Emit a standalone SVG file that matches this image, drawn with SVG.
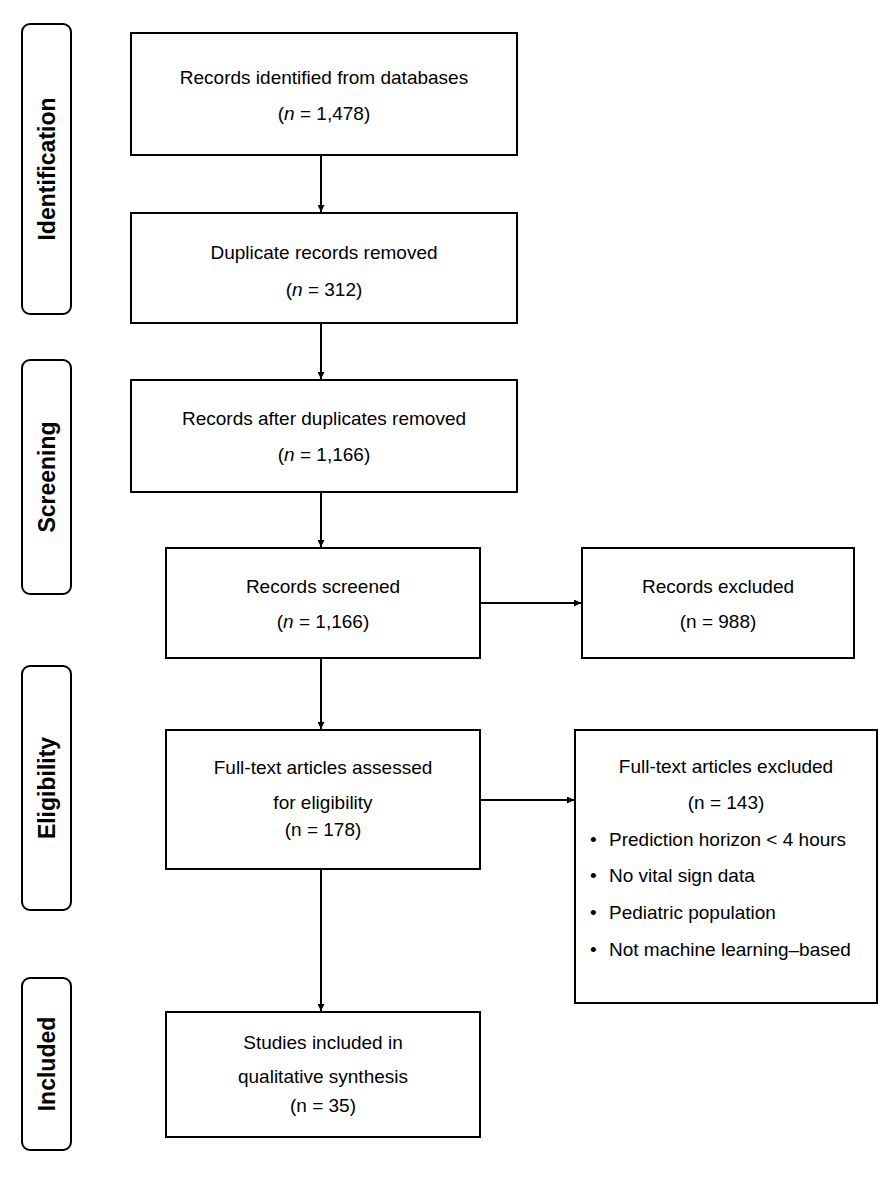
<svg xmlns="http://www.w3.org/2000/svg" width="892" height="1198" viewBox="0 0 892 1198">
<style>
.b{fill:#fff;stroke:#000;stroke-width:2}
.s{fill:#fff;stroke:#000;stroke-width:2}
text{font-family:"Liberation Sans",Arial,sans-serif;font-size:19px;fill:#000}
.c{text-anchor:middle}
.lab{font-size:23px;font-weight:bold;text-anchor:middle}
.e{stroke:#000;stroke-width:2;fill:none;marker-end:url(#a)}
</style>
<defs><marker id="a" viewBox="0 0 10 10" refX="10" refY="5" markerWidth="7" markerHeight="7" markerUnits="userSpaceOnUse" orient="auto"><path d="M0,0L10,5L0,10z" fill="#000"/></marker></defs>
<rect width="892" height="1198" fill="#fff"/>
<g id="stage-identification"><rect class="s" x="22" y="24" width="49" height="290" rx="8"/><text class="lab" transform="translate(55,169) rotate(-90)">Identification</text></g>
<g id="stage-screening"><rect class="s" x="22" y="360" width="49" height="234" rx="8"/><text class="lab" transform="translate(55,477) rotate(-90)">Screening</text></g>
<g id="stage-eligibility"><rect class="s" x="22" y="666" width="49" height="244" rx="8"/><text class="lab" transform="translate(55,788) rotate(-90)">Eligibility</text></g>
<g id="stage-included"><rect class="s" x="22" y="978" width="49" height="172" rx="8"/><text class="lab" transform="translate(55,1064) rotate(-90)">Included</text></g>
<g id="n1"><rect class="b" x="131" y="33" width="386" height="122"/><text class="c" x="324" y="84">Records identified from databases</text><text class="c" x="324" y="120">(<tspan font-style="italic">n</tspan> = 1,478)</text></g>
<g id="n2"><rect class="b" x="131" y="213" width="386" height="110"/><text class="c" x="324" y="259">Duplicate records removed</text><text class="c" x="324" y="296">(<tspan font-style="italic">n</tspan> = 312)</text></g>
<g id="n3"><rect class="b" x="131" y="380" width="386" height="112"/><text class="c" x="324" y="425">Records after duplicates removed</text><text class="c" x="324" y="461">(<tspan font-style="italic">n</tspan> = 1,166)</text></g>
<g id="n4"><rect class="b" x="166" y="548" width="314" height="110"/><text class="c" x="323" y="593">Records screened</text><text class="c" x="323" y="628">(<tspan font-style="italic">n</tspan> = 1,166)</text></g>
<g id="n5"><rect class="b" x="582" y="548" width="272" height="110"/><text class="c" x="718" y="593">Records excluded</text><text class="c" x="718" y="628">(n = 988)</text></g>
<g id="n6"><rect class="b" x="166" y="730" width="314" height="139"/><text class="c" x="323" y="774">Full-text articles assessed</text><text class="c" x="323" y="809">for eligibility</text><text class="c" x="323" y="836">(n = 178)</text></g>
<g id="n7"><rect class="b" x="575" y="730" width="302" height="273"/><text class="c" x="726" y="773">Full-text articles excluded</text><text class="c" x="726" y="809">(n = 143)</text>
<text x="590" y="846">•</text><text x="609" y="846">Prediction horizon &lt; 4 hours</text>
<text x="590" y="882">•</text><text x="609" y="882">No vital sign data</text>
<text x="590" y="919">•</text><text x="609" y="919">Pediatric population</text>
<text x="590" y="956">•</text><text x="609" y="956">Not machine learning–based</text></g>
<g id="n8"><rect class="b" x="166" y="1012" width="314" height="125"/><text class="c" x="323" y="1049">Studies included in</text><text class="c" x="323" y="1083">qualitative synthesis</text><text class="c" x="323" y="1112">(n = 35)</text></g>
<g id="connectors">
<path class="e" d="M321,155V212"/>
<path class="e" d="M321,323V379"/>
<path class="e" d="M321,492V547"/>
<path class="e" d="M321,658V729"/>
<path class="e" d="M321,869V1011"/>
<path class="e" d="M480,603H581"/>
<path class="e" d="M480,800H574"/>
</g>
</svg>
